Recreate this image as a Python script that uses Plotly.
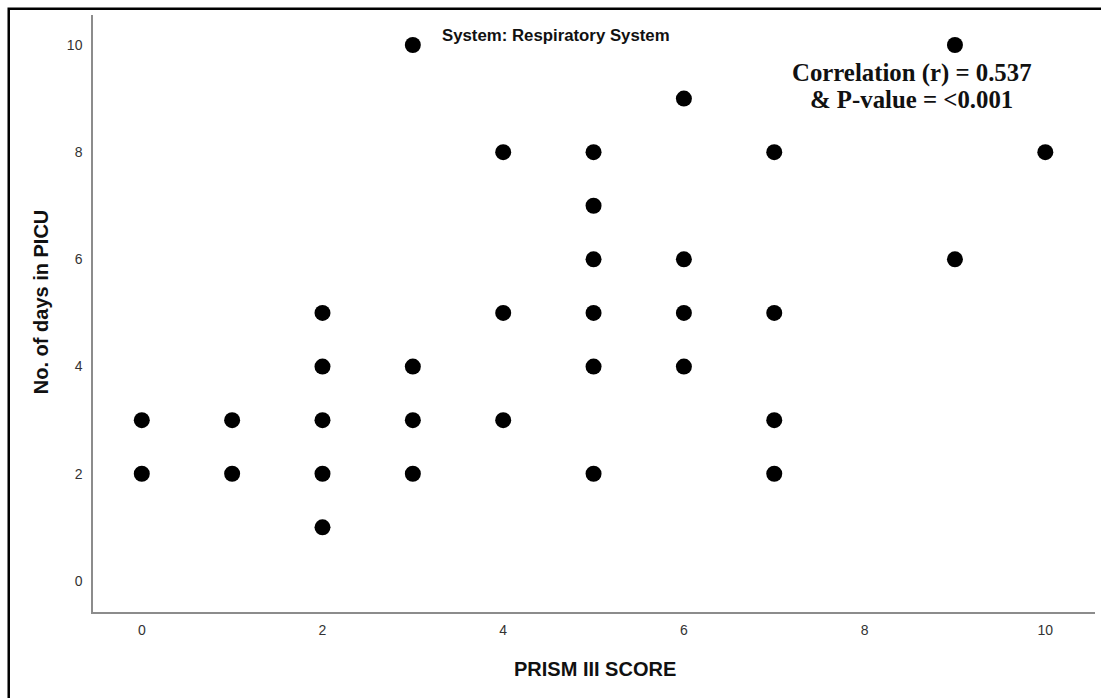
import plotly.graph_objects as go

# PRISM III score vs. length of PICU stay (respiratory system cases)
prism_score = [0, 0, 1, 1, 2, 2, 2, 2, 2, 3, 3, 3, 3, 4, 4, 4,
               5, 5, 5, 5, 5, 5, 6, 6, 6, 6, 7, 7, 7, 7, 9, 9, 10]
picu_days = [3, 2, 3, 2, 5, 4, 3, 2, 1, 10, 4, 3, 2, 8, 5, 3,
             8, 7, 6, 5, 4, 2, 9, 6, 5, 4, 8, 5, 3, 2, 10, 6, 8]

tick_vals = [0, 2, 4, 6, 8, 10]
tick_text = ["0", "2", "4", "6", "8", "10"]

title_text = "System: Respiratory System"
corr_line1 = "Correlation (r) = 0.537"
corr_line2 = "& P-value = <0.001"
x_title = "PRISM III SCORE"
y_title = "No. of days in PICU"

sans = "Liberation Sans, Arial, sans-serif"
serif = "Liberation Serif, Times New Roman, serif"

fig = go.Figure(
    go.Scatter(
        x=prism_score,
        y=picu_days,
        mode="markers",
        marker=dict(size=16, color="black", line=dict(width=0)),
        hoverinfo="skip",
    )
)

axis_common = dict(
    showgrid=False,
    zeroline=False,
    showline=True,
    linecolor="#8c8c8c",
    linewidth=1.5,
    ticks="",
    tickvals=tick_vals,
    ticktext=tick_text,
    tickfont=dict(family=sans, size=14, color="#333333"),
)

fig.update_layout(
    width=1101,
    height=698,
    margin=dict(l=93, r=6, t=15, b=86),
    paper_bgcolor="white",
    plot_bgcolor="white",
    showlegend=False,
    xaxis=dict(range=[-0.54, 10.55], ticklabelstandoff=4, **axis_common),
    yaxis=dict(range=[-0.58, 10.56], ticklabelstandoff=6, **axis_common),
    shapes=[
        # outer frame around the figure
        dict(type="rect", xref="paper", yref="paper",
             x0=-0.0841, x1=1.05, y0=-0.2, y1=1.0106,
             line=dict(color="black", width=2.5), fillcolor="rgba(0,0,0,0)",
             layer="above"),
    ],
    annotations=[
        dict(text="<b>" + title_text + "</b>", xref="paper", yref="paper",
             x=0.462, y=0.965, xanchor="center", yanchor="middle",
             showarrow=False, font=dict(family=sans, size=16.8, color="#111111")),
        dict(text="<b>" + corr_line1 + "</b>", xref="paper", yref="paper",
             x=0.817, y=0.903, xanchor="center", yanchor="middle",
             showarrow=False, font=dict(family=serif, size=24.8, color="#111111")),
        dict(text="<b>" + corr_line2 + "</b>", xref="paper", yref="paper",
             x=0.817, y=0.859, xanchor="center", yanchor="middle",
             showarrow=False, font=dict(family=serif, size=24.8, color="#111111")),
        dict(text="<b>" + x_title + "</b>", xref="paper", yref="paper",
             x=0.5005, y=-0.0963, xanchor="center", yanchor="middle",
             showarrow=False, font=dict(family=sans, size=20, color="#111111")),
        dict(text="<b>" + y_title + "</b>", xref="paper", yref="paper",
             x=-0.0519, y=0.519, xanchor="center", yanchor="middle",
             textangle=-90, showarrow=False,
             font=dict(family=sans, size=20, color="#111111")),
    ],
)

fig.write_html("out.html")
